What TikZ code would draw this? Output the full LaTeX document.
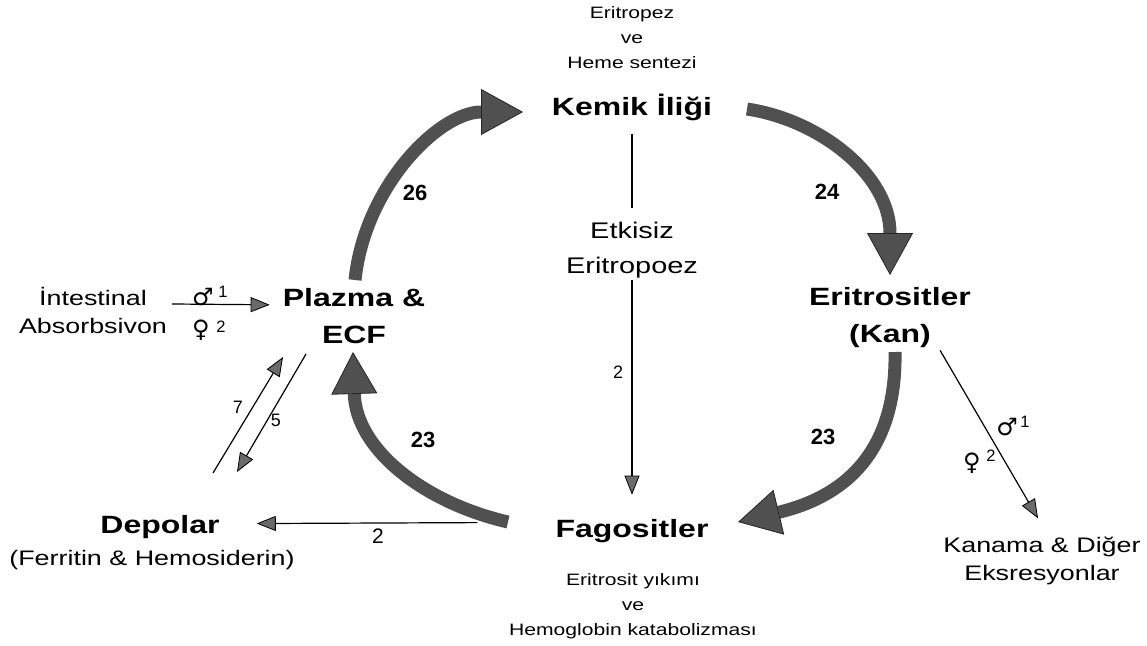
\documentclass[tikz,border=0pt]{standalone}
\usepackage{fontspec}
\setmainfont{Liberation Sans}[FakeStretch=1.28]
\newfontfamily\plainfont{Liberation Sans}
\newfontfamily\symfont{DejaVu Sans}
\usetikzlibrary{arrows.meta}
\definecolor{bigc}{HTML}{505050}
\definecolor{tipc}{HTML}{6A6A6A}
\tikzset{
  lbl/.style={inner sep=0pt, anchor=base, align=center},
  boldlbl/.style={lbl, font=\bfseries\fontsize{25}{36.5}\selectfont},
  smalllbl/.style={lbl, font=\fontsize{16.5}{24.8}\selectfont},
  midlbl/.style={lbl, font=\fontsize{21}{28}\selectfont},
  numlbl/.style={inner sep=0pt, font=\plainfont\bfseries\fontsize{22}{26}\selectfont},
  smallnum/.style={inner sep=0pt, font=\plainfont\fontsize{18}{22}\selectfont},
  supnum/.style={inner sep=0pt, font=\plainfont\fontsize{16.5}{20}\selectfont},
  symlbl/.style={inner sep=0pt, font=\symfont\fontsize{24}{28}\selectfont},
  bigarrow/.style={draw=bigc, line width=13pt,
    -{Triangle[length=42pt,width=46pt,line width=0.8pt,color=black!85,fill=bigc]}},
  thinline/.style={draw=black, line width=1.2pt},
  thinarrow/.style={thinline,
    -{Triangle[length=19pt,width=15pt,line width=0.8pt,color=black,fill=tipc]}},
}
\begin{document}
\begin{tikzpicture}[x=1pt,y=-1pt]
\useasboundingbox (0,0) rectangle (1147,645);

% nodes (base anchor = baseline of the last line)
\node[smalllbl] (kemiknote) at (632,68) {Eritropez\\ve\\Heme sentezi};
\node[boldlbl] (kemik) at (632,115) {Kemik İliği};
\node[lbl, font=\fontsize{22.6}{35}\selectfont] (etkisiz) at (632,273) {Etkisiz\\Eritropoez};
\node[boldlbl] (eritro) at (890,342) {Eritrositler\\(Kan)};
\node[boldlbl] (plazma) at (354,343) {Plazma \&\\ECF};
\node[boldlbl] (fago) at (632,537) {Fagositler};
\node[smalllbl] (fagonote) at (633,635) {Eritrosit yıkımı\\ve\\Hemoglobin katabolizması};
\node[boldlbl] (depolar) at (160,533) {Depolar};
\node[midlbl] (depolarsub) at (152,565) {(Ferritin \& Hemosiderin)};
\node[midlbl] (intest) at (93,333) {İntestinal\\Absorbsivon};
\node[midlbl] (kanama) at (1042,580) {Kanama \& Diğer\\Eksresyonlar};

% free ends of the big cycle arrows
\coordinate (plazmaTop) at (355,280);
\coordinate (kemikLeft) at (523,112);
\coordinate (kemikRight) at (747,109);
\coordinate (eritroTop) at (890,275);
\coordinate (eritroBottom) at (895,352);
\coordinate (fagoRight) at (738,522);
\coordinate (fagoLeft) at (508,522);
\coordinate (plazmaBottom) at (353,352);

% big cycle arrows
\draw[bigarrow] (plazmaTop) .. controls (365,185) and (440,112) .. (kemikLeft);
\draw[bigarrow] (kemikRight) .. controls (820,120) and (890,175) .. (eritroTop);
\draw[bigarrow] (eritroBottom) .. controls (897,465) and (830,500) .. (fagoRight);
\draw[bigarrow] (fagoLeft) .. controls (425,503) and (356,450) .. (plazmaBottom);

\node[numlbl] (n26) at (415,193) {26};
\node[numlbl] (n24) at (827,192) {24};
\node[numlbl] (n23r) at (823,437) {23};
\node[numlbl] (n23l) at (423,440) {23};

% ineffective erythropoiesis
\draw[thinline, shorten <=13pt, shorten >=13pt] (kemik.south) -- (etkisiz.north);
\draw[thinarrow, shorten <=2pt, shorten >=24pt] (etkisiz.south) -- (fago.north);
\node[smallnum] (n2v) at (618,372) {2};

% intestinal absorption
\draw[thinarrow] ([shift={(5pt,6pt)}]intest.east) -- ([shift={(-13pt,11pt)}]plazma.west);
\node[symlbl] (ma) at (203,297) {♂};
\node[supnum] (ma1) at (223,292) {1};
\node[symlbl] (fa) at (201,330) {♀};
\node[supnum] (fa2) at (221,327) {2};

% stores exchange
\coordinate (d7a) at (213,473);
\coordinate (d7b) at (283,357);
\coordinate (d5a) at (306,354);
\coordinate (d5b) at (237,472);
\draw[thinarrow] (d7a) -- (d7b);
\draw[thinarrow] (d5a) -- (d5b);
\node[smallnum] (n7) at (238,407) {7};
\node[smallnum] (n5) at (276,420) {5};

% phagocytes to stores
\draw[thinarrow] ([shift={(-78pt,8pt)}]fago.west) -- ([shift={(37pt,3pt)}]depolar.east);
\node[smallnum, font=\plainfont\fontsize{21}{24}\selectfont] (n2d) at (378,536) {2};

% bleeding
\draw[thinarrow] ([shift={(-31pt,-3pt)}]eritro.south east) -- ([shift={(-4pt,18pt)}]kanama.north);
\node[symlbl] (mb) at (1007,427) {♂};
\node[supnum] (mb1) at (1025,422) {1};
\node[symlbl] (fb) at (972,463) {♀};
\node[supnum] (fb2) at (991,456) {2};
\end{tikzpicture}
\end{document}
